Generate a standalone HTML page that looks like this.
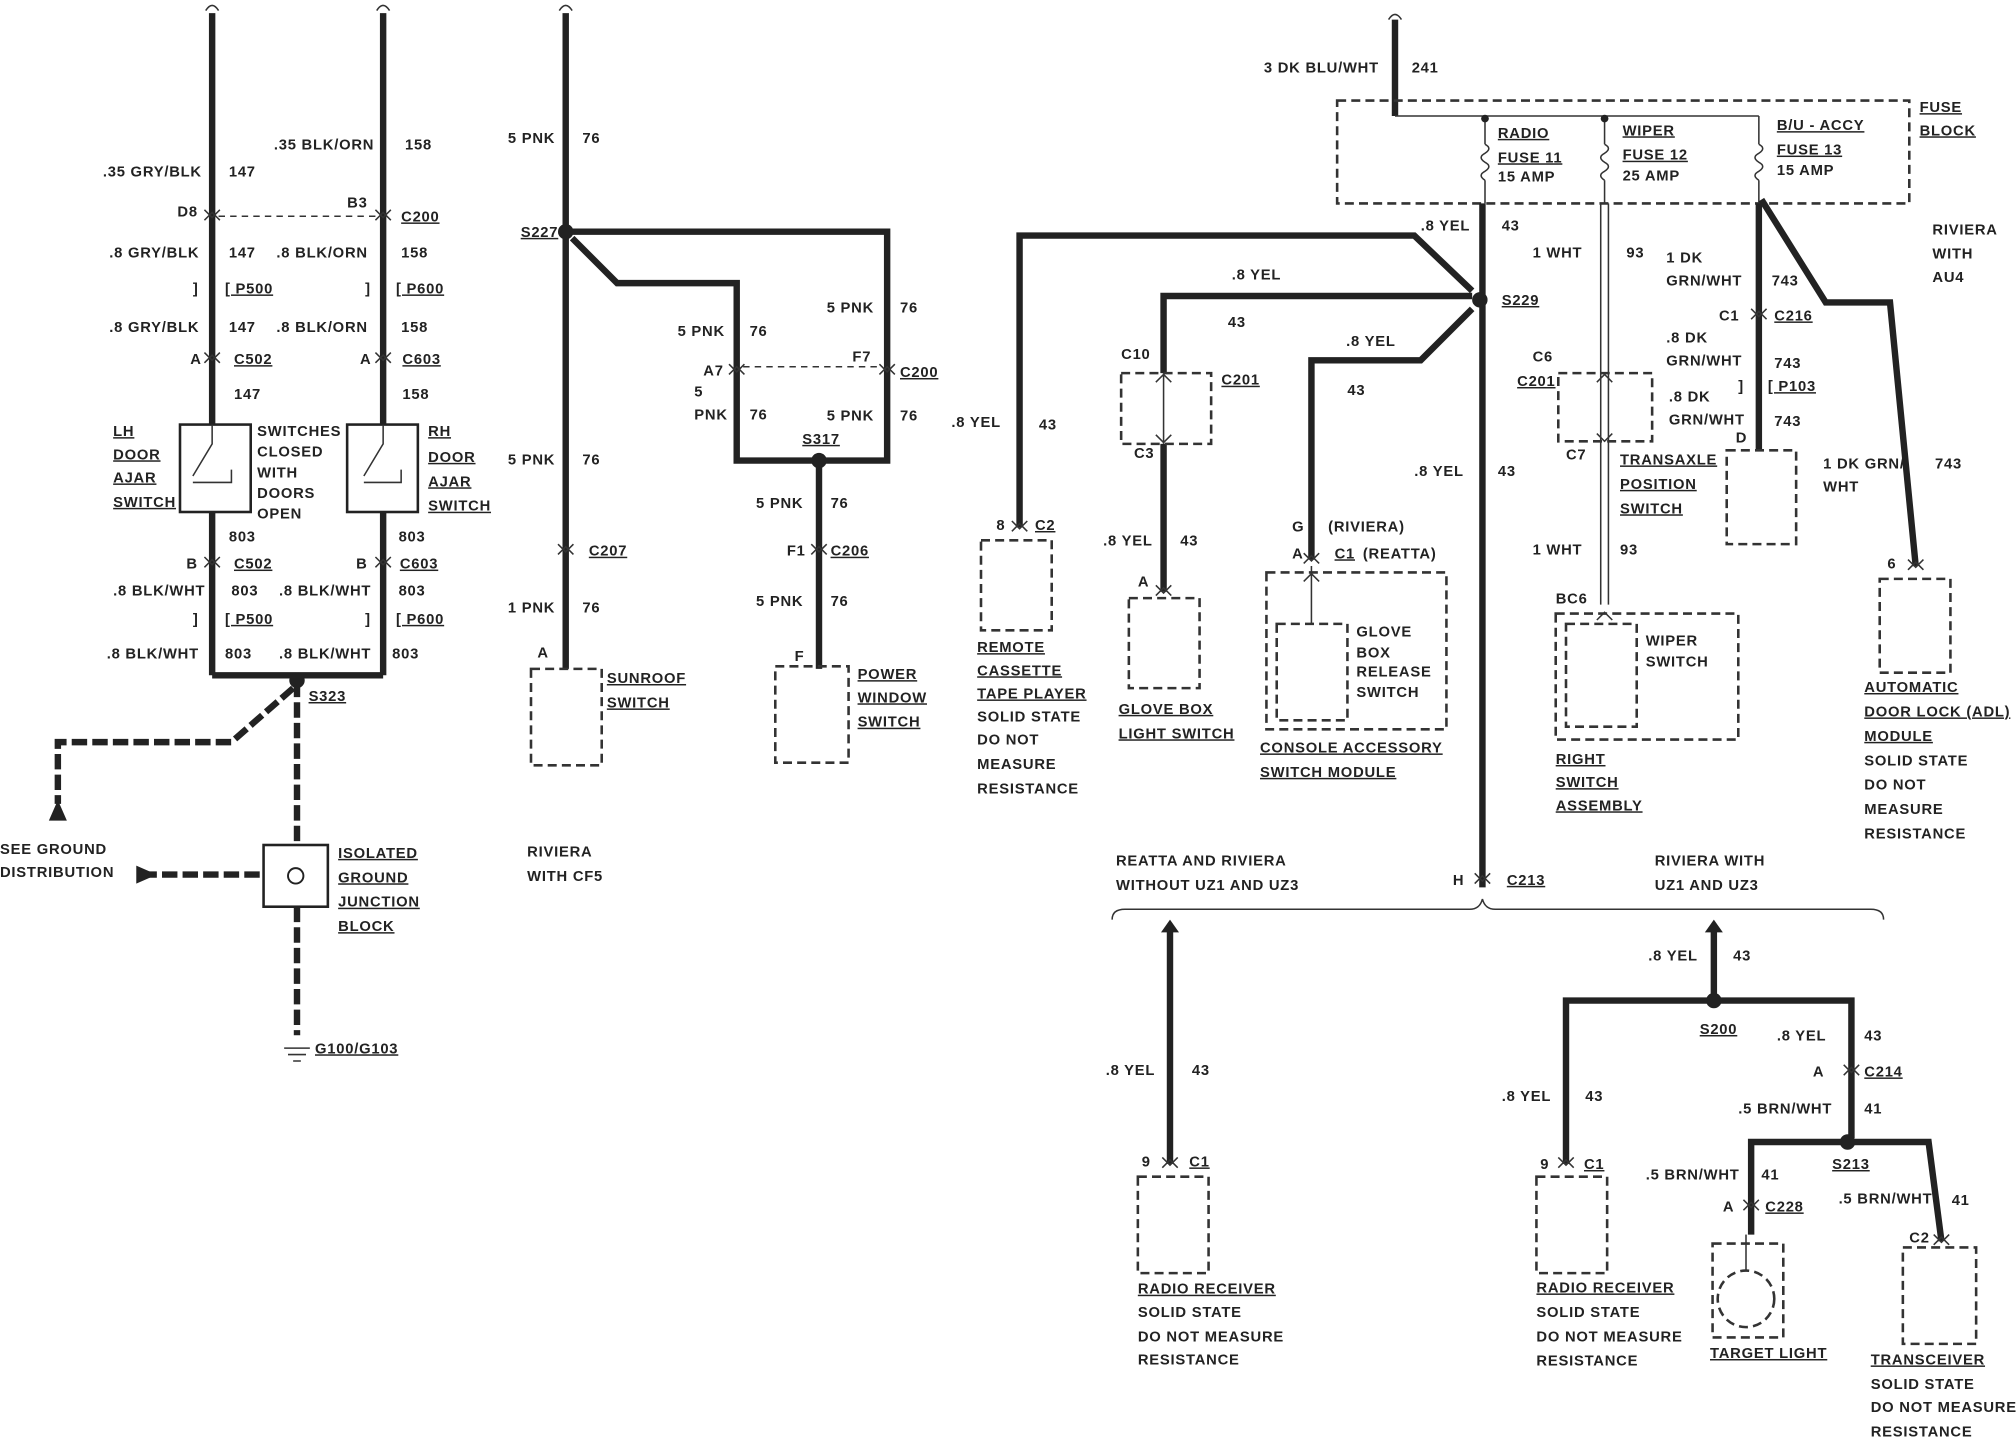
<!DOCTYPE html>
<html><head><meta charset="utf-8"><style>
html,body{margin:0;padding:0;background:#fff;}
svg{display:block}
text{font-family:"Liberation Sans",sans-serif;font-weight:bold;font-size:11.5px;fill:#222;letter-spacing:0.6px}
.u{text-decoration:underline}
.w{stroke:#222;stroke-width:5;fill:none;stroke-linejoin:miter}
.t{stroke:#333;stroke-width:1.2;fill:none}
.d{stroke:#333;stroke-width:2;fill:none;stroke-dasharray:7,4}
.dt{stroke:#333;stroke-width:1.2;fill:none;stroke-dasharray:5,4}
</style></head><body>
<svg width="2016" height="1456" viewBox="0 0 1568 1132" xmlns="http://www.w3.org/2000/svg">
<rect width="1568" height="1132" fill="#fff"/>
<defs>
<g id="cn"><path d="M-6,-5 L0,1 L6,-5" class="t" stroke-width="2"/><path d="M-6,3 L0,-3 L6,3" class="t" stroke-width="2"/></g>
</defs>

<!-- LEFT -->
<path class="w" d="M165,10V525M298,10V525M165,525H298"/>
<path d="M160,8q5,-8 10,0M293,8q5,-8 10,0" class="t"/>
<text x="80" y="137">.35 GRY/BLK</text><text x="178" y="137">147</text>
<text x="213" y="116">.35 BLK/ORN</text><text x="315" y="116">158</text>
<text x="138" y="168">D8</text><text x="270" y="161">B3</text><text x="312" y="172" class="u">C200</text>
<path class="dt" d="M170,168H293"/>
<use href="#cn" x="165" y="168"/><use href="#cn" x="298" y="168"/>
<text x="85" y="200">.8 GRY/BLK</text><text x="178" y="200">147</text>
<text x="215" y="200">.8 BLK/ORN</text><text x="312" y="200">158</text>
<text x="150" y="228">]</text><text x="175" y="228" class="u">[ P500</text>
<text x="284" y="228">]</text><text x="308" y="228" class="u">[ P600</text>
<text x="85" y="258">.8 GRY/BLK</text><text x="178" y="258">147</text>
<text x="215" y="258">.8 BLK/ORN</text><text x="312" y="258">158</text>
<text x="148" y="283">A</text><text x="182" y="283" class="u">C502</text>
<text x="280" y="283">A</text><text x="313" y="283" class="u">C603</text>
<use href="#cn" x="165" y="279"/><use href="#cn" x="298" y="279"/>
<text x="182" y="310">147</text><text x="313" y="310">158</text>
<rect x="140" y="330" width="55" height="68" fill="#fff" stroke="#222" stroke-width="2"/>
<rect x="270" y="330" width="55" height="68" fill="#fff" stroke="#222" stroke-width="2"/>
<path class="t" stroke-width="2" d="M165,330V345L150,370M150,375H180V365M298,330V345L283,370M283,375H312V365"/>
<text x="88" y="339" class="u">LH</text><text x="88" y="357" class="u">DOOR</text><text x="88" y="375" class="u">AJAR</text><text x="88" y="394" class="u">SWITCH</text>
<text x="200" y="339">SWITCHES</text><text x="200" y="355">CLOSED</text><text x="200" y="371">WITH</text><text x="200" y="387">DOORS</text><text x="200" y="403">OPEN</text>
<text x="333" y="339" class="u">RH</text><text x="333" y="359" class="u">DOOR</text><text x="333" y="378" class="u">AJAR</text><text x="333" y="397" class="u">SWITCH</text>
<text x="178" y="421">803</text><text x="310" y="421">803</text>
<text x="145" y="442">B</text><text x="182" y="442" class="u">C502</text><text x="277" y="442">B</text><text x="311" y="442" class="u">C603</text>
<use href="#cn" x="165" y="438"/><use href="#cn" x="298" y="438"/>
<text x="88" y="463">.8 BLK/WHT</text><text x="180" y="463">803</text>
<text x="217" y="463">.8 BLK/WHT</text><text x="310" y="463">803</text>
<text x="150" y="485">]</text><text x="175" y="485" class="u">[ P500</text><text x="284" y="485">]</text><text x="308" y="485" class="u">[ P600</text>
<text x="83" y="512">.8 BLK/WHT</text><text x="175" y="512">803</text>
<text x="217" y="512">.8 BLK/WHT</text><text x="305" y="512">803</text>
<circle cx="231" cy="529" r="6" fill="#222"/>
<text x="240" y="545" class="u">S323</text>
<path d="M231,530V657M231,705V805M228,535L180,577H45V625M110,680H205" stroke="#222" stroke-width="5" fill="none" stroke-dasharray="12,4"/>
<path d="M38,638L45,622L52,638Z" fill="#222"/>
<path d="M106,673L122,680L106,687Z" fill="#222"/>
<text x="0" y="664">SEE GROUND</text><text x="0" y="682">DISTRIBUTION</text>
<rect x="205" y="657" width="50" height="48" fill="#fff" stroke="#222" stroke-width="2"/>
<circle cx="230" cy="681" r="6" fill="#fff" stroke="#222" stroke-width="1.5"/>
<text x="263" y="667" class="u">ISOLATED</text><text x="263" y="686" class="u">GROUND</text><text x="263" y="705" class="u">JUNCTION</text><text x="263" y="724" class="u">BLOCK</text>
<path class="t" stroke-width="2" d="M221,815H241M224,820H238M228,825H234"/>
<text x="245" y="819" class="u">G100/G103</text>

<!-- MIDDLE -->
<path class="w" d="M440,10V520M440,180H690V358H573V220H480L445,185"/>
<path d="M637,358V520" class="w"/>
<path d="M435,8q5,-8 10,0" class="t"/>
<text x="395" y="111">5 PNK</text><text x="453" y="111">76</text>
<circle cx="440" cy="180" r="6" fill="#222"/><text x="405" y="184" class="u">S227</text>
<text x="527" y="261">5 PNK</text><text x="583" y="261">76</text>
<text x="643" y="243">5 PNK</text><text x="700" y="243">76</text>
<text x="547" y="292">A7</text><text x="663" y="281">F7</text><text x="700" y="293" class="u">C200</text>
<path class="dt" d="M578,285H685"/>
<use href="#cn" x="573" y="288"/><use href="#cn" x="690" y="288"/>
<text x="540" y="308">5</text><text x="540" y="326">PNK</text><text x="583" y="326">76</text>
<text x="643" y="327">5 PNK</text><text x="700" y="327">76</text>
<circle cx="637" cy="358" r="6" fill="#222"/><text x="624" y="345" class="u">S317</text>
<text x="395" y="361">5 PNK</text><text x="453" y="361">76</text>
<text x="588" y="395">5 PNK</text><text x="646" y="395">76</text>
<use href="#cn" x="440" y="428"/><text x="458" y="432" class="u">C207</text>
<use href="#cn" x="637" y="428"/><text x="612" y="432">F1</text><text x="646" y="432" class="u">C206</text>
<text x="395" y="476">1 PNK</text><text x="453" y="476">76</text>
<text x="588" y="471">5 PNK</text><text x="646" y="471">76</text>
<text x="418" y="511">A</text><text x="618" y="514">F</text>
<rect x="413" y="520" width="55" height="75" class="d" fill="#fff"/>
<rect x="603" y="518" width="57" height="75" class="d" fill="#fff"/>
<text x="472" y="531" class="u">SUNROOF</text><text x="472" y="550" class="u">SWITCH</text>
<text x="667" y="528" class="u">POWER</text><text x="667" y="546" class="u">WINDOW</text><text x="667" y="565" class="u">SWITCH</text>
<text x="410" y="666">RIVIERA</text><text x="410" y="685">WITH CF5</text>

<!-- FUSE BLOCK -->
<path class="w" d="M1085,15V90"/><path d="M1080,15q5,-8 10,0" class="t"/>
<text x="983" y="56">3 DK BLU/WHT</text><text x="1098" y="56">241</text>
<rect x="1040" y="78" width="445" height="80" fill="#eee" class="d"/>
<path class="t" stroke-width="2" d="M1085,90H1368M1155,90V112M1248,90V112M1368,90V112M1155,140V158M1248,140V158M1368,140V158"/>
<path class="t" stroke-width="1.5" d="M1155,112q6,3 0,7q-6,3 0,7q6,3 0,7q-6,3 0,7M1248,112q6,3 0,7q-6,3 0,7q6,3 0,7q-6,3 0,7M1368,112q6,3 0,7q-6,3 0,7q6,3 0,7q-6,3 0,7"/>
<circle cx="1155" cy="92" r="3" fill="#222"/><circle cx="1248" cy="92" r="3" fill="#222"/>
<text x="1165" y="107" class="u">RADIO</text><text x="1165" y="126" class="u">FUSE 11</text><text x="1165" y="141" font-size="9">15 AMP</text>
<text x="1262" y="105" class="u">WIPER</text><text x="1262" y="124" class="u">FUSE 12</text><text x="1262" y="140" font-size="9">25 AMP</text>
<text x="1382" y="101" class="u">B/U - ACCY</text><text x="1382" y="120" class="u">FUSE 13</text><text x="1382" y="136" font-size="9">15 AMP</text>
<text x="1493" y="87" class="u">FUSE</text><text x="1493" y="105" class="u">BLOCK</text>

<!-- RADIO FUSE BRANCHES -->
<path class="w" d="M1153,158V690M1145,226L1100,183H793V410M1145,230H905V290M1145,240L1105,280H1020V435M905,345V460"/>
<circle cx="1151" cy="233" r="6" fill="#222"/><text x="1168" y="237" class="u">S229</text>
<text x="1105" y="179">.8 YEL</text><text x="1168" y="179">43</text>
<text x="958" y="217">.8 YEL</text><text x="955" y="254">43</text>
<text x="1047" y="269">.8 YEL</text><text x="1048" y="307">43</text>
<text x="740" y="332">.8 YEL</text><text x="808" y="334">43</text>
<text x="1100" y="370">.8 YEL</text><text x="1165" y="370">43</text>
<text x="872" y="279">C10</text><text x="950" y="299" class="u">C201</text>
<rect x="872" y="290" width="70" height="55" class="d" fill="#fff"/>
<path class="t" d="M905,290V345M899,297L905,291L911,297M899,338L905,344L911,338"/>
<text x="882" y="356">C3</text>
<text x="858" y="424">.8 YEL</text><text x="918" y="424">43</text>
<text x="885" y="456">A</text><use href="#cn" x="905" y="460"/>
<rect x="878" y="465" width="55" height="70" class="d" fill="#fff"/>
<text x="870" y="555" class="u">GLOVE BOX</text><text x="870" y="574" class="u">LIGHT SWITCH</text>
<text x="775" y="412">8</text><use href="#cn" x="793" y="410"/><text x="805" y="412" class="u">C2</text>
<rect x="763" y="420" width="55" height="70" class="d" fill="#fff"/>
<text x="760" y="507" class="u">REMOTE</text><text x="760" y="525" class="u">CASSETTE</text><text x="760" y="543" class="u">TAPE PLAYER</text>
<text x="760" y="561">SOLID STATE</text><text x="760" y="579">DO NOT</text><text x="760" y="598">MEASURE</text><text x="760" y="617">RESISTANCE</text>
<text x="1005" y="413">G</text><text x="1033" y="413">(RIVIERA)</text>
<text x="1005" y="434">A</text><use href="#cn" x="1020" y="435"/><text x="1038" y="434" class="u">C1</text><text x="1060" y="434">(REATTA)</text>
<rect x="985" y="445" width="140" height="122" class="d" fill="#fff"/>
<rect x="993" y="485" width="55" height="75" class="d" fill="#fff"/>
<path class="t" d="M1020,440V485M1014,452L1020,446L1026,452"/>
<text x="1055" y="495" font-size="10">GLOVE</text><text x="1055" y="511" font-size="10">BOX</text><text x="1055" y="526" font-size="10">RELEASE</text><text x="1055" y="542" font-size="10">SWITCH</text>
<text x="980" y="585" class="u">CONSOLE ACCESSORY</text><text x="980" y="604" class="u">SWITCH MODULE</text>
<text x="1130" y="688">H</text><use href="#cn" x="1153" y="684"/><text x="1172" y="688" class="u">C213</text>

<!-- WIPER -->
<path class="t" d="M1245,158V470M1251,158V470" stroke-width="1.5"/>
<text x="1192" y="200">1 WHT</text><text x="1265" y="200">93</text>
<text x="1192" y="281">C6</text><text x="1180" y="300" class="u">C201</text>
<rect x="1212" y="290" width="73" height="53" class="d" fill="#fff"/>
<path class="t" d="M1242,297L1248,291L1254,297M1242,337L1248,343L1254,337"/>
<text x="1218" y="357">C7</text>
<text x="1260" y="361" class="u">TRANSAXLE</text><text x="1260" y="380" class="u">POSITION</text><text x="1260" y="399" class="u">SWITCH</text>
<text x="1192" y="431">1 WHT</text><text x="1260" y="431">93</text>
<text x="1210" y="469">BC6</text>
<rect x="1210" y="477" width="142" height="98" class="d" fill="#fff"/>
<rect x="1218" y="485" width="55" height="80" class="d" fill="#fff"/>
<path class="t" d="M1242,482L1248,476L1254,482"/>
<text x="1280" y="502" font-size="10">WIPER</text><text x="1280" y="518" font-size="10">SWITCH</text>
<text x="1210" y="594" class="u">RIGHT</text><text x="1210" y="612" class="u">SWITCH</text><text x="1210" y="630" class="u">ASSEMBLY</text>

<!-- B/U -->
<path class="w" d="M1368,158V350M1370,155L1420,235H1470L1490,440"/>
<text x="1296" y="204">1 DK</text><text x="1296" y="222">GRN/WHT</text><text x="1378" y="222">743</text>
<text x="1337" y="249">C1</text><use href="#cn" x="1368" y="245"/><text x="1380" y="249" class="u">C216</text>
<text x="1296" y="266">.8 DK</text><text x="1296" y="284">GRN/WHT</text><text x="1380" y="286">743</text>
<text x="1352" y="304">]</text><text x="1375" y="304" class="u">[ P103</text>
<text x="1298" y="312">.8 DK</text><text x="1298" y="330">GRN/WHT</text><text x="1380" y="331">743</text>
<text x="1350" y="344">D</text>
<rect x="1343" y="350" width="54" height="73" class="d" fill="#fff"/>
<text x="1503" y="182">RIVIERA</text><text x="1503" y="201">WITH</text><text x="1503" y="219">AU4</text>
<text x="1418" y="364">1 DK GRN/</text><text x="1418" y="382">WHT</text><text x="1505" y="364">743</text>
<text x="1468" y="442">6</text><use href="#cn" x="1490" y="440"/>
<rect x="1462" y="450" width="55" height="73" class="d" fill="#fff"/>
<text x="1450" y="538" class="u">AUTOMATIC</text><text x="1450" y="557" class="u">DOOR LOCK (ADL)</text><text x="1450" y="576" class="u">MODULE</text>
<text x="1450" y="595">SOLID STATE</text><text x="1450" y="614">DO NOT</text><text x="1450" y="633">MEASURE</text><text x="1450" y="652">RESISTANCE</text>

<!-- BOTTOM -->
<text x="868" y="673">REATTA AND  RIVIERA</text><text x="868" y="692">WITHOUT UZ1 AND UZ3</text>
<text x="1287" y="673">RIVIERA WITH</text><text x="1287" y="692">UZ1 AND UZ3</text>
<path class="t" stroke-width="1.5" d="M865,715q0,-8 10,-8H1143q8,0 10,-8q2,8 10,8H1455q10,0 10,8"/>
<path class="w" d="M910,720V905M1333,720V778M1218,905V778H1440V885M1437,888H1362V960M1437,888H1500L1510,965"/>
<path d="M903,725L910,715L917,725Z" fill="#222"/><path d="M1326,725L1333,715L1340,725Z" fill="#222"/>
<text x="860" y="836">.8 YEL</text><text x="927" y="836">43</text>
<text x="888" y="907">9</text><use href="#cn" x="910" y="905"/><text x="925" y="907" class="u">C1</text>
<rect x="885" y="915" width="55" height="75" class="d" fill="#fff"/>
<text x="885" y="1006" class="u">RADIO RECEIVER</text><text x="885" y="1024">SOLID STATE</text><text x="885" y="1043">DO NOT MEASURE</text><text x="885" y="1061">RESISTANCE</text>
<text x="1282" y="747">.8 YEL</text><text x="1348" y="747">43</text>
<circle cx="1333" cy="778" r="6" fill="#222"/><text x="1322" y="804" class="u">S200</text>
<text x="1382" y="809">.8 YEL</text><text x="1450" y="809">43</text>
<text x="1410" y="837">A</text><use href="#cn" x="1440" y="833"/><text x="1450" y="837" class="u">C214</text>
<text x="1168" y="856">.8 YEL</text><text x="1233" y="856">43</text>
<text x="1352" y="866">.5 BRN/WHT</text><text x="1450" y="866">41</text>
<circle cx="1437" cy="888" r="6" fill="#222"/><text x="1425" y="909" class="u">S213</text>
<text x="1280" y="917">.5 BRN/WHT</text><text x="1370" y="917">41</text>
<text x="1430" y="936">.5 BRN/WHT</text><text x="1518" y="937">41</text>
<text x="1198" y="909">9</text><use href="#cn" x="1218" y="905"/><text x="1232" y="909" class="u">C1</text>
<rect x="1195" y="915" width="55" height="75" class="d" fill="#fff"/>
<text x="1195" y="1005" class="u">RADIO RECEIVER</text><text x="1195" y="1024">SOLID STATE</text><text x="1195" y="1043">DO NOT MEASURE</text><text x="1195" y="1062">RESISTANCE</text>
<text x="1340" y="942">A</text><use href="#cn" x="1362" y="938"/><text x="1373" y="942" class="u">C228</text>
<rect x="1332" y="967" width="55" height="73" class="d" fill="#fff"/>
<path class="t" stroke-width="2" d="M1358,960V988"/>
<circle cx="1358" cy="1010" r="22" class="d" fill="none"/>
<text x="1330" y="1056" class="u">TARGET LIGHT</text>
<text x="1485" y="966">C2</text><use href="#cn" x="1510" y="965"/>
<rect x="1480" y="970" width="57" height="75" class="d" fill="#fff"/>
<text x="1455" y="1061" class="u">TRANSCEIVER</text><text x="1455" y="1080">SOLID STATE</text><text x="1455" y="1098">DO NOT MEASURE</text><text x="1455" y="1117">RESISTANCE</text>
</svg>
</body></html>
